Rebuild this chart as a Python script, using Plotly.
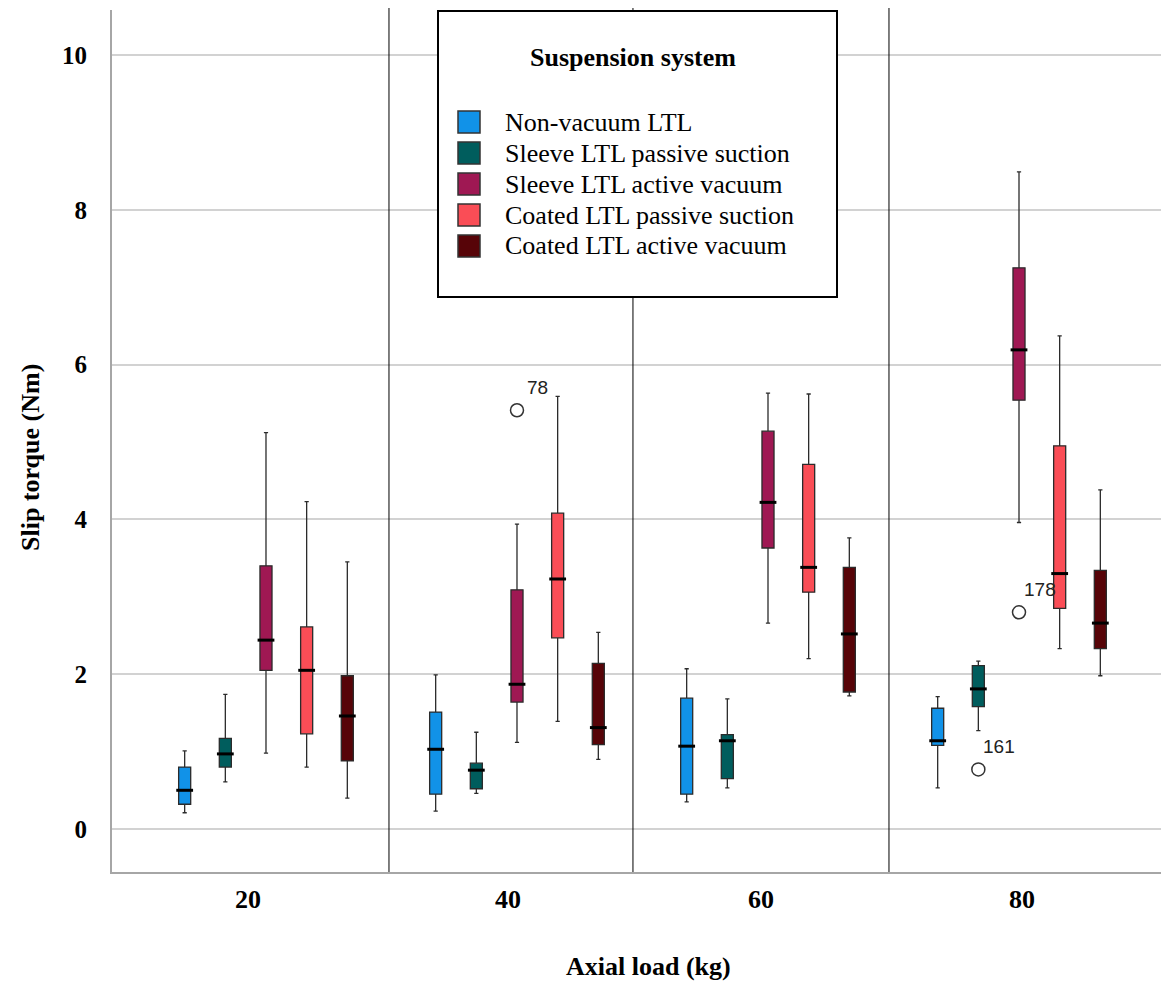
import plotly.graph_objects as go

# ---------------- data ----------------
LOADS = ["20", "40", "60", "80"]
SERIES = [
    "Non-vacuum LTL",
    "Sleeve LTL passive suction",
    "Sleeve LTL active vacuum",
    "Coated LTL passive suction",
    "Coated LTL active vacuum",
]
COLORS = ["#1192e8", "#005d5d", "#9f1853", "#fa4d56", "#570408"]

# rows = series (same order as SERIES), columns = loads 20/40/60/80 kg
LOWER = [
    [0.21, 0.23, 0.35, 0.53],
    [0.61, 0.46, 0.53, 1.27],
    [0.98, 1.12, 2.66, 3.96],
    [0.80, 1.39, 2.20, 2.33],
    [0.40, 0.90, 1.72, 1.98],
]
Q1 = [
    [0.32, 0.45, 0.45, 1.08],
    [0.80, 0.52, 0.65, 1.58],
    [2.05, 1.64, 3.63, 5.54],
    [1.23, 2.47, 3.06, 2.85],
    [0.88, 1.09, 1.77, 2.33],
]
MEDIAN = [
    [0.50, 1.03, 1.07, 1.14],
    [0.97, 0.76, 1.14, 1.81],
    [2.44, 1.87, 4.22, 6.19],
    [2.05, 3.23, 3.38, 3.30],
    [1.46, 1.31, 2.52, 2.66],
]
Q3 = [
    [0.80, 1.51, 1.69, 1.56],
    [1.17, 0.85, 1.22, 2.11],
    [3.40, 3.09, 5.14, 7.25],
    [2.61, 4.08, 4.71, 4.95],
    [1.98, 2.14, 3.38, 3.34],
]
UPPER = [
    [1.01, 1.99, 2.07, 1.71],
    [1.74, 1.25, 1.68, 2.17],
    [5.12, 3.94, 5.63, 8.49],
    [4.23, 5.59, 5.62, 6.37],
    [3.45, 2.54, 3.76, 4.38],
]

OUTLIER_LOAD = ["40", "80", "80"]
OUTLIER_SERIES = ["Sleeve LTL active vacuum", "Sleeve LTL passive suction", "Sleeve LTL active vacuum"]
OUTLIER_VALUE = [5.41, 0.77, 2.80]
OUTLIER_ID = ["78", "161", "178"]

Y_TICKS = [0, 2, 4, 6, 8, 10]

# ---------------- layout geometry ----------------
# The page places the figure 8 px from the top-left corner of the window.
OFF = 8
W, H = 1169 - OFF, 983 - OFF
PL, PR, PT, PB = 112 - OFF, 1169 - OFF, 10 - OFF, 872 - OFF
GROUP_POS = [1, 2, 3, 4]
OFFSET = 0.162
BOX_W = 0.048
X_RANGE = [0.3865, 4.5976]
Y_RANGE = [-0.5556, 10.581]
TICK_POS = [0.928, 1.964, 2.972, 4.012]
SEP_POS = [1.490, 2.462, 3.482]

SERIF = "Liberation Serif, Times New Roman, serif"
SANS = "Liberation Sans, Arial, sans-serif"


def px_x(p):
    # window pixel -> paper fraction
    return (p - OFF - PL) / (PR - PL)


def px_y(p):
    return (PB - (p - OFF)) / (PB - PT)


def xpos(series_idx, load_idx):
    return GROUP_POS[load_idx] + (series_idx - 2) * OFFSET


fig = go.Figure()

for i, name in enumerate(SERIES):
    xs = [xpos(i, j) for j in range(len(LOADS))]
    fig.add_trace(go.Box(
        x=xs, q1=Q1[i], median=MEDIAN[i], q3=Q3[i],
        lowerfence=LOWER[i], upperfence=UPPER[i],
        width=BOX_W, whiskerwidth=0.35,
        fillcolor=COLORS[i], line=dict(color="#2b2b2b", width=1.3),
        boxpoints=False, name=name, showlegend=False,
    ))
    fig.add_trace(go.Scatter(
        x=xs, y=MEDIAN[i], mode="markers",
        marker=dict(symbol="line-ew", size=12, color="black",
                    line=dict(width=3, color="black")),
        showlegend=False, hoverinfo="skip",
    ))

ox = [xpos(SERIES.index(s), LOADS.index(l)) for s, l in zip(OUTLIER_SERIES, OUTLIER_LOAD)]
fig.add_trace(go.Scatter(
    x=ox, y=OUTLIER_VALUE, mode="markers",
    marker=dict(symbol="circle-open", size=13, color="#333333", line=dict(width=1.5)),
    showlegend=False,
))
for x, y, t in zip(ox, OUTLIER_VALUE, OUTLIER_ID):
    fig.add_annotation(x=x, y=y, text=t, showarrow=False, xshift=21, yshift=23,
                       font=dict(family=SANS, size=19, color="#222222"))

shapes = []
for s in SEP_POS:
    shapes.append(dict(type="line", xref="x", yref="paper", x0=s, x1=s, y0=0, y1=px_y(7),
                       line=dict(color="black", width=1), layer="above"))

# legend box
shapes.append(dict(type="rect", xref="paper", yref="paper",
                   x0=px_x(438), x1=px_x(837), y0=px_y(297), y1=px_y(11),
                   line=dict(color="black", width=2), fillcolor="white", layer="above"))
annotations = [dict(xref="paper", yref="paper", x=px_x(633), y=px_y(57),
                    text="<b>Suspension system</b>", showarrow=False,
                    xanchor="center", yanchor="middle",
                    font=dict(family=SERIF, size=26, color="black"))]
for i, name in enumerate(SERIES):
    cy = 122 + 31 * i
    shapes.append(dict(type="rect", xref="paper", yref="paper",
                       x0=px_x(458), x1=px_x(480), y0=px_y(cy + 11), y1=px_y(cy - 11),
                       line=dict(color="#333333", width=1.5), fillcolor=COLORS[i], layer="above"))
    annotations.append(dict(xref="paper", yref="paper", x=px_x(503), y=px_y(cy),
                            text=name, showarrow=False, xanchor="left", yanchor="middle",
                            font=dict(family=SERIF, size=26, color="black")))

# axis titles
annotations.append(dict(xref="paper", yref="paper", x=px_x(30), y=px_y(458),
                        text="<b>Slip torque (Nm)</b>", textangle=-90, showarrow=False,
                        xanchor="center", yanchor="middle",
                        font=dict(family=SERIF, size=26, color="black")))
annotations.append(dict(xref="paper", yref="paper", x=px_x(648), y=px_y(966),
                        text="<b>Axial load (kg)</b>", showarrow=False,
                        xanchor="center", yanchor="middle",
                        font=dict(family=SERIF, size=26, color="black")))

fig.update_layout(
    width=W, height=H,
    margin=dict(l=PL, r=W - PR, t=PT, b=H - PB),
    paper_bgcolor="white", plot_bgcolor="white",
    showlegend=False,
    shapes=shapes, annotations=fig.layout.annotations + tuple(annotations),
    xaxis=dict(range=X_RANGE, tickvals=TICK_POS, ticktext=LOADS, showgrid=False,
               zeroline=False, showline=True, linecolor="#a6a6a6", linewidth=2,
               ticks="", ticklabelstandoff=3,
               tickfont=dict(family=SERIF, size=26, color="black", weight="bold")),
    yaxis=dict(range=Y_RANGE, tickvals=Y_TICKS, showgrid=True, gridcolor="#d2d2d2",
               gridwidth=2, zeroline=False, showline=True, linecolor="#a6a6a6",
               linewidth=2, ticks="", ticklabelstandoff=18,
               tickfont=dict(family=SERIF, size=25, color="black", weight="bold")),
)

fig.write_html("out.html")
